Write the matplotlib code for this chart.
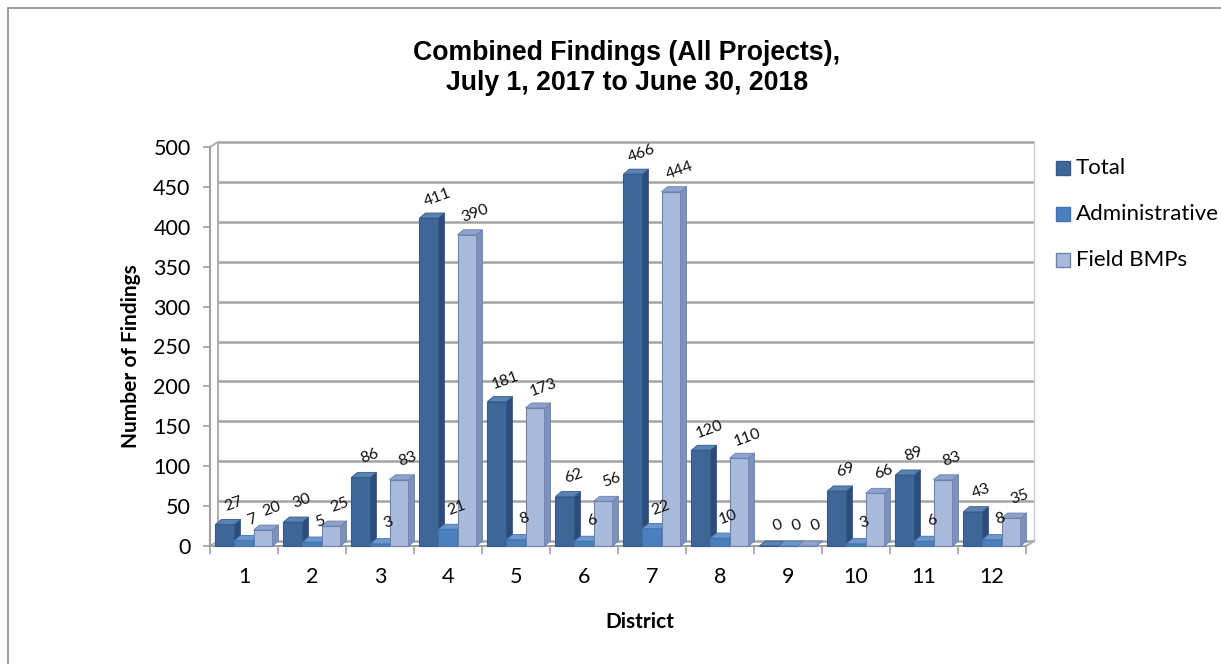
import matplotlib
matplotlib.use("Agg")
import matplotlib.pyplot as plt
from matplotlib.patches import Polygon, Rectangle
from matplotlib.transforms import ScaledTranslation
import numpy as np

districts = ["1", "2", "3", "4", "5", "6", "7", "8", "9", "10", "11", "12"]
total = [27, 30, 86, 411, 181, 62, 466, 120, 0, 69, 89, 43]
administrative = [7, 5, 3, 21, 8, 6, 22, 10, 0, 3, 6, 8]
field_bmps = [20, 25, 83, 390, 173, 56, 444, 110, 0, 66, 83, 35]
series_names = ["Total", "Administrative", "Field BMPs"]
y_ticks = [0, 50, 100, 150, 200, 250, 300, 350, 400, 450, 500]

# front, side, top, edge colours per series
styles = [
    ("#3E6798", "#2B4C78", "#5A82B2", "#35598A"),
    ("#4B7FBE", "#3A69A2", "#6D97CC", "#4274B0"),
    ("#A9BADA", "#7C92BC", "#8EA3CB", "#6A82AE"),
]

plt.rcParams["font.family"] = ["Lato", "DejaVu Sans"]

W, H = 1221, 664
fig = plt.figure(figsize=(W / 100, H / 100), dpi=100)
ax = fig.add_axes([210 / W, 1 - 546 / H, (1026 - 210) / W, (546 - 147) / H])

n = len(districts)
x = np.arange(n)
ax.set_xlim(-0.5, n - 0.5)
ax.set_ylim(0, 500)

px_x = (1026 - 210) / n
px_y = (546 - 147) / 500
dxd = 6 / px_x
dyd = 5 / px_y

# back wall offset
wall = ax.transData + ScaledTranslation(0.08, 0.05, fig.dpi_scale_trans)
ax.hlines(y_ticks, -0.5, n - 0.5, transform=wall, colors="#a4a4a4",
          lw=1.8, clip_on=False, zorder=0)
ax.vlines([-0.5], 0, 500, transform=wall, colors="#b0b0b0", lw=1.5,
          clip_on=False, zorder=0)
ax.vlines([n - 0.5], 0, 500, transform=wall, colors="#cccccc", lw=1.0,
          clip_on=False, zorder=0)
ax.plot([-0.5, -0.5 + 8 / px_x], [500, 500 + 5 / px_y], color="#b0b0b0",
        lw=1.5, clip_on=False, zorder=0)
ax.plot([-0.5, -0.5 + 8 / px_x], [0, 5 / px_y], color="#b0b0b0",
        lw=1.5, clip_on=False, zorder=0)
ax.plot([n - 0.5, n - 0.5 + 8 / px_x], [0, 5 / px_y], color="#b0b0b0",
        lw=1.5, clip_on=False, zorder=0)

width = 0.28
offsets = [-0.28, 0.0, 0.28]
all_vals = [total, administrative, field_bmps]

for i in range(n):
    for s, vals in enumerate(all_vals):
        v = vals[i]
        front, side, top, edge = styles[s]
        x0 = x[i] + offsets[s] - width / 2
        x1 = x0 + width
        z = 3 + i * 3 + s
        ax.add_patch(Rectangle((x0, 0), width, v, facecolor=front,
                               edgecolor=edge, lw=0.8, zorder=z,
                               clip_on=False))
        ax.add_patch(Polygon([(x1, 0), (x1 + dxd, dyd), (x1 + dxd, v + dyd),
                              (x1, v)], closed=True, facecolor=side,
                             edgecolor=edge, lw=0.6, zorder=z,
                             clip_on=False))
        ax.add_patch(Polygon([(x0, v), (x0 + dxd, v + dyd),
                              (x1 + dxd, v + dyd), (x1, v)], closed=True,
                             facecolor=top, edgecolor=edge, lw=0.6,
                             zorder=z, clip_on=False))
        ax.annotate(str(v), (x0 + width / 2, v), xytext=(6, 15),
                    textcoords="offset points", ha="center", va="center",
                    rotation=20, fontsize=11.5, color="#111111",
                    zorder=100)

# axes frame
for sp in ["top", "right"]:
    ax.spines[sp].set_visible(False)
ax.spines["left"].set_color("#a0a0a0")
ax.spines["left"].set_linewidth(1.5)
ax.spines["bottom"].set_color("#a0a0a0")
ax.spines["bottom"].set_linewidth(1.5)
ax.set_yticks(y_ticks)
ax.set_yticklabels([str(t) for t in y_ticks], fontsize=15.5)
ax.set_xticks(np.arange(n + 1) - 0.5, minor=True)
ax.set_xticks(x)
ax.set_xticklabels(districts, fontsize=15.5)
ax.tick_params(axis="x", which="major", length=0, pad=15)
ax.tick_params(axis="x", which="minor", length=6, color="#a0a0a0", width=1.2)
ax.tick_params(axis="y", length=5, color="#a0a0a0", width=1.2, pad=9)

fig.text(131 / W, 1 - 356 / H, "Number of Findings", rotation=90,
         ha="center", va="center", fontsize=15, fontweight="bold")
fig.text(640 / W, 1 - 622 / H, "District", ha="center", va="center",
         fontsize=15, fontweight="bold")

fig.text(627 / W, 1 - 68 / H,
         "Combined Findings (All Projects),\nJuly 1, 2017 to June 30, 2018",
         ha="center", va="center", fontsize=19.2, fontweight="bold",
         family="Liberation Sans", linespacing=1.25)

# legend
for k, name in enumerate(series_names):
    yc = 168 + 46 * k
    fig.patches.append(Rectangle((1056 / W, 1 - (yc + 7) / H), 14 / W,
                                 14 / H, transform=fig.transFigure,
                                 facecolor=styles[k][0],
                                 edgecolor=styles[k][3], lw=1))
    fig.text(1076 / W, 1 - yc / H, name, ha="left", va="center",
             fontsize=16)

fig.patches.append(Rectangle((8 / W, -0.05), 1.1, 1.05 - 8 / H,
                             transform=fig.transFigure, fill=False,
                             edgecolor="#8c8c8c", lw=1.2))

fig.savefig("out.png", dpi=100)
